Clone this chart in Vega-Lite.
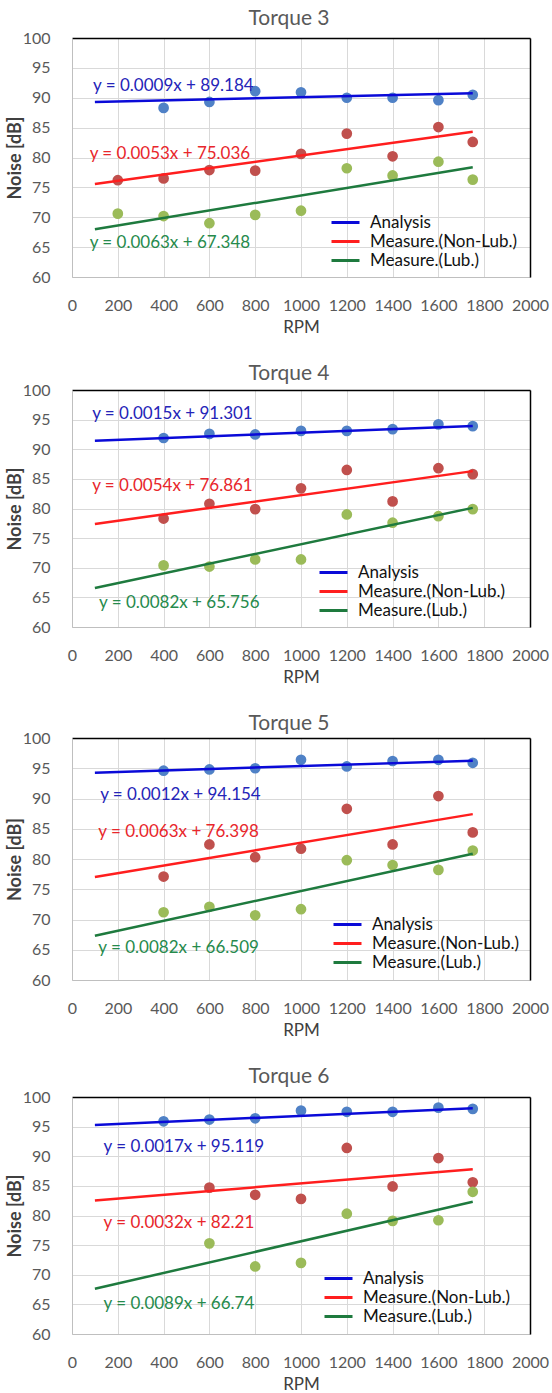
{
  "$schema": "https://vega.github.io/schema/vega-lite/v6.json",
  "padding": {"left": 6, "top": 8, "right": 5, "bottom": 0},
  "background": "white",
  "spacing": 28,
  "config": {
    "font": "Lato",
    "view": {"stroke": null},
    "title": {"font": "Lato", "fontSize": 21, "fontWeight": "normal", "color": "#595959", "offset": 0, "dx": -12},
    "axis": {"labelFont": "Lato", "titleFont": "Lato", "labelFontSize": 16, "labelColor": "#595959", "ticks": false, "domainColor": "#BFBFBF", "gridColor": "#D9D9D9", "titleColor": "#404040", "labelOverlap": false, "labelFlush": false},
    "axisX": {"labelPadding": 20, "titleFontSize": 17, "titleFontWeight": "normal", "titlePadding": 6},
    "axisY": {"labelPadding": 22, "titleFontSize": 18, "titleFontWeight": "bold"},
    "legend": {"labelFont": "Lato", "labelFontSize": 17, "labelColor": "#111111", "symbolType": "M-2,0H2", "symbolSize": 196, "symbolStrokeWidth": 3, "rowPadding": 1, "labelOffset": 16, "padding": 0, "orient": "none"}
  },
  "datasets": {
    "pts": [
      {"panel": "Torque 3", "series": "Analysis", "rpm": 400, "noise": 88.3},
      {"panel": "Torque 3", "series": "Analysis", "rpm": 600, "noise": 89.3},
      {"panel": "Torque 3", "series": "Analysis", "rpm": 800, "noise": 91.1},
      {"panel": "Torque 3", "series": "Analysis", "rpm": 1000, "noise": 90.9},
      {"panel": "Torque 3", "series": "Analysis", "rpm": 1200, "noise": 90.0},
      {"panel": "Torque 3", "series": "Analysis", "rpm": 1400, "noise": 90.0},
      {"panel": "Torque 3", "series": "Analysis", "rpm": 1600, "noise": 89.6},
      {"panel": "Torque 3", "series": "Analysis", "rpm": 1750, "noise": 90.5},
      {"panel": "Torque 3", "series": "Measure.(Non-Lub.)", "rpm": 200, "noise": 76.2},
      {"panel": "Torque 3", "series": "Measure.(Non-Lub.)", "rpm": 400, "noise": 76.5},
      {"panel": "Torque 3", "series": "Measure.(Non-Lub.)", "rpm": 600, "noise": 77.9},
      {"panel": "Torque 3", "series": "Measure.(Non-Lub.)", "rpm": 800, "noise": 77.8},
      {"panel": "Torque 3", "series": "Measure.(Non-Lub.)", "rpm": 1000, "noise": 80.6},
      {"panel": "Torque 3", "series": "Measure.(Non-Lub.)", "rpm": 1200, "noise": 84.0},
      {"panel": "Torque 3", "series": "Measure.(Non-Lub.)", "rpm": 1400, "noise": 80.2},
      {"panel": "Torque 3", "series": "Measure.(Non-Lub.)", "rpm": 1600, "noise": 85.1},
      {"panel": "Torque 3", "series": "Measure.(Non-Lub.)", "rpm": 1750, "noise": 82.6},
      {"panel": "Torque 3", "series": "Measure.(Lub.)", "rpm": 200, "noise": 70.6},
      {"panel": "Torque 3", "series": "Measure.(Lub.)", "rpm": 400, "noise": 70.2},
      {"panel": "Torque 3", "series": "Measure.(Lub.)", "rpm": 600, "noise": 69.0},
      {"panel": "Torque 3", "series": "Measure.(Lub.)", "rpm": 800, "noise": 70.4},
      {"panel": "Torque 3", "series": "Measure.(Lub.)", "rpm": 1000, "noise": 71.1},
      {"panel": "Torque 3", "series": "Measure.(Lub.)", "rpm": 1200, "noise": 78.2},
      {"panel": "Torque 3", "series": "Measure.(Lub.)", "rpm": 1400, "noise": 77.0},
      {"panel": "Torque 3", "series": "Measure.(Lub.)", "rpm": 1600, "noise": 79.3},
      {"panel": "Torque 3", "series": "Measure.(Lub.)", "rpm": 1750, "noise": 76.3},
      {"panel": "Torque 4", "series": "Analysis", "rpm": 400, "noise": 91.9},
      {"panel": "Torque 4", "series": "Analysis", "rpm": 600, "noise": 92.6},
      {"panel": "Torque 4", "series": "Analysis", "rpm": 800, "noise": 92.5},
      {"panel": "Torque 4", "series": "Analysis", "rpm": 1000, "noise": 93.1},
      {"panel": "Torque 4", "series": "Analysis", "rpm": 1200, "noise": 93.1},
      {"panel": "Torque 4", "series": "Analysis", "rpm": 1400, "noise": 93.4},
      {"panel": "Torque 4", "series": "Analysis", "rpm": 1600, "noise": 94.2},
      {"panel": "Torque 4", "series": "Analysis", "rpm": 1750, "noise": 93.9},
      {"panel": "Torque 4", "series": "Measure.(Non-Lub.)", "rpm": 400, "noise": 78.3},
      {"panel": "Torque 4", "series": "Measure.(Non-Lub.)", "rpm": 600, "noise": 80.8},
      {"panel": "Torque 4", "series": "Measure.(Non-Lub.)", "rpm": 800, "noise": 79.9},
      {"panel": "Torque 4", "series": "Measure.(Non-Lub.)", "rpm": 1000, "noise": 83.4},
      {"panel": "Torque 4", "series": "Measure.(Non-Lub.)", "rpm": 1200, "noise": 86.5},
      {"panel": "Torque 4", "series": "Measure.(Non-Lub.)", "rpm": 1400, "noise": 81.2},
      {"panel": "Torque 4", "series": "Measure.(Non-Lub.)", "rpm": 1600, "noise": 86.8},
      {"panel": "Torque 4", "series": "Measure.(Non-Lub.)", "rpm": 1750, "noise": 85.8},
      {"panel": "Torque 4", "series": "Measure.(Lub.)", "rpm": 400, "noise": 70.4},
      {"panel": "Torque 4", "series": "Measure.(Lub.)", "rpm": 600, "noise": 70.2},
      {"panel": "Torque 4", "series": "Measure.(Lub.)", "rpm": 800, "noise": 71.4},
      {"panel": "Torque 4", "series": "Measure.(Lub.)", "rpm": 1000, "noise": 71.4},
      {"panel": "Torque 4", "series": "Measure.(Lub.)", "rpm": 1200, "noise": 79.0},
      {"panel": "Torque 4", "series": "Measure.(Lub.)", "rpm": 1400, "noise": 77.6},
      {"panel": "Torque 4", "series": "Measure.(Lub.)", "rpm": 1600, "noise": 78.7},
      {"panel": "Torque 4", "series": "Measure.(Lub.)", "rpm": 1750, "noise": 79.9},
      {"panel": "Torque 5", "series": "Analysis", "rpm": 400, "noise": 94.6},
      {"panel": "Torque 5", "series": "Analysis", "rpm": 600, "noise": 94.8},
      {"panel": "Torque 5", "series": "Analysis", "rpm": 800, "noise": 95.0},
      {"panel": "Torque 5", "series": "Analysis", "rpm": 1000, "noise": 96.4},
      {"panel": "Torque 5", "series": "Analysis", "rpm": 1200, "noise": 95.3},
      {"panel": "Torque 5", "series": "Analysis", "rpm": 1400, "noise": 96.2},
      {"panel": "Torque 5", "series": "Analysis", "rpm": 1600, "noise": 96.4},
      {"panel": "Torque 5", "series": "Analysis", "rpm": 1750, "noise": 95.9},
      {"panel": "Torque 5", "series": "Measure.(Non-Lub.)", "rpm": 400, "noise": 77.1},
      {"panel": "Torque 5", "series": "Measure.(Non-Lub.)", "rpm": 600, "noise": 82.4},
      {"panel": "Torque 5", "series": "Measure.(Non-Lub.)", "rpm": 800, "noise": 80.3},
      {"panel": "Torque 5", "series": "Measure.(Non-Lub.)", "rpm": 1000, "noise": 81.7},
      {"panel": "Torque 5", "series": "Measure.(Non-Lub.)", "rpm": 1200, "noise": 88.3},
      {"panel": "Torque 5", "series": "Measure.(Non-Lub.)", "rpm": 1400, "noise": 82.4},
      {"panel": "Torque 5", "series": "Measure.(Non-Lub.)", "rpm": 1600, "noise": 90.4},
      {"panel": "Torque 5", "series": "Measure.(Non-Lub.)", "rpm": 1750, "noise": 84.4},
      {"panel": "Torque 5", "series": "Measure.(Lub.)", "rpm": 400, "noise": 71.2},
      {"panel": "Torque 5", "series": "Measure.(Lub.)", "rpm": 600, "noise": 72.1},
      {"panel": "Torque 5", "series": "Measure.(Lub.)", "rpm": 800, "noise": 70.7},
      {"panel": "Torque 5", "series": "Measure.(Lub.)", "rpm": 1000, "noise": 71.7},
      {"panel": "Torque 5", "series": "Measure.(Lub.)", "rpm": 1200, "noise": 79.8},
      {"panel": "Torque 5", "series": "Measure.(Lub.)", "rpm": 1400, "noise": 79.0},
      {"panel": "Torque 5", "series": "Measure.(Lub.)", "rpm": 1600, "noise": 78.2},
      {"panel": "Torque 5", "series": "Measure.(Lub.)", "rpm": 1750, "noise": 81.4},
      {"panel": "Torque 6", "series": "Analysis", "rpm": 400, "noise": 95.9},
      {"panel": "Torque 6", "series": "Analysis", "rpm": 600, "noise": 96.2},
      {"panel": "Torque 6", "series": "Analysis", "rpm": 800, "noise": 96.4},
      {"panel": "Torque 6", "series": "Analysis", "rpm": 1000, "noise": 97.7},
      {"panel": "Torque 6", "series": "Analysis", "rpm": 1200, "noise": 97.5},
      {"panel": "Torque 6", "series": "Analysis", "rpm": 1400, "noise": 97.5},
      {"panel": "Torque 6", "series": "Analysis", "rpm": 1600, "noise": 98.2},
      {"panel": "Torque 6", "series": "Analysis", "rpm": 1750, "noise": 98.0},
      {"panel": "Torque 6", "series": "Measure.(Non-Lub.)", "rpm": 600, "noise": 84.7},
      {"panel": "Torque 6", "series": "Measure.(Non-Lub.)", "rpm": 800, "noise": 83.5},
      {"panel": "Torque 6", "series": "Measure.(Non-Lub.)", "rpm": 1000, "noise": 82.8},
      {"panel": "Torque 6", "series": "Measure.(Non-Lub.)", "rpm": 1200, "noise": 91.4},
      {"panel": "Torque 6", "series": "Measure.(Non-Lub.)", "rpm": 1400, "noise": 84.9},
      {"panel": "Torque 6", "series": "Measure.(Non-Lub.)", "rpm": 1600, "noise": 89.7},
      {"panel": "Torque 6", "series": "Measure.(Non-Lub.)", "rpm": 1750, "noise": 85.6},
      {"panel": "Torque 6", "series": "Measure.(Lub.)", "rpm": 600, "noise": 75.3},
      {"panel": "Torque 6", "series": "Measure.(Lub.)", "rpm": 800, "noise": 71.4},
      {"panel": "Torque 6", "series": "Measure.(Lub.)", "rpm": 1000, "noise": 72.0},
      {"panel": "Torque 6", "series": "Measure.(Lub.)", "rpm": 1200, "noise": 80.3},
      {"panel": "Torque 6", "series": "Measure.(Lub.)", "rpm": 1400, "noise": 79.1},
      {"panel": "Torque 6", "series": "Measure.(Lub.)", "rpm": 1600, "noise": 79.2},
      {"panel": "Torque 6", "series": "Measure.(Lub.)", "rpm": 1750, "noise": 84.0}
    ],
    "lines": [
      {"panel": "Torque 3", "series": "Analysis", "rpm": 100, "noise": 89.27},
      {"panel": "Torque 3", "series": "Analysis", "rpm": 1750, "noise": 90.76},
      {"panel": "Torque 3", "series": "Measure.(Non-Lub.)", "rpm": 100, "noise": 75.57},
      {"panel": "Torque 3", "series": "Measure.(Non-Lub.)", "rpm": 1750, "noise": 84.31},
      {"panel": "Torque 3", "series": "Measure.(Lub.)", "rpm": 100, "noise": 67.98},
      {"panel": "Torque 3", "series": "Measure.(Lub.)", "rpm": 1750, "noise": 78.37},
      {"panel": "Torque 4", "series": "Analysis", "rpm": 100, "noise": 91.45},
      {"panel": "Torque 4", "series": "Analysis", "rpm": 1750, "noise": 93.93},
      {"panel": "Torque 4", "series": "Measure.(Non-Lub.)", "rpm": 100, "noise": 77.40},
      {"panel": "Torque 4", "series": "Measure.(Non-Lub.)", "rpm": 1750, "noise": 86.31},
      {"panel": "Torque 4", "series": "Measure.(Lub.)", "rpm": 100, "noise": 66.58},
      {"panel": "Torque 4", "series": "Measure.(Lub.)", "rpm": 1750, "noise": 80.11},
      {"panel": "Torque 5", "series": "Analysis", "rpm": 100, "noise": 94.27},
      {"panel": "Torque 5", "series": "Analysis", "rpm": 1750, "noise": 96.25},
      {"panel": "Torque 5", "series": "Measure.(Non-Lub.)", "rpm": 100, "noise": 77.03},
      {"panel": "Torque 5", "series": "Measure.(Non-Lub.)", "rpm": 1750, "noise": 87.42},
      {"panel": "Torque 5", "series": "Measure.(Lub.)", "rpm": 100, "noise": 67.33},
      {"panel": "Torque 5", "series": "Measure.(Lub.)", "rpm": 1750, "noise": 80.86},
      {"panel": "Torque 6", "series": "Analysis", "rpm": 100, "noise": 95.29},
      {"panel": "Torque 6", "series": "Analysis", "rpm": 1750, "noise": 98.09},
      {"panel": "Torque 6", "series": "Measure.(Non-Lub.)", "rpm": 100, "noise": 82.53},
      {"panel": "Torque 6", "series": "Measure.(Non-Lub.)", "rpm": 1750, "noise": 87.81},
      {"panel": "Torque 6", "series": "Measure.(Lub.)", "rpm": 100, "noise": 67.63},
      {"panel": "Torque 6", "series": "Measure.(Lub.)", "rpm": 1750, "noise": 82.32}
    ],
    "eqs": [
      {"panel": "Torque 3", "series": "Analysis", "rpm": 92, "noise": 91.9, "label": "y = 0.0009x + 89.184"},
      {"panel": "Torque 3", "series": "Measure.(Non-Lub.)", "rpm": 77, "noise": 80.6, "label": "y = 0.0053x + 75.036"},
      {"panel": "Torque 3", "series": "Measure.(Lub.)", "rpm": 77, "noise": 65.7, "label": "y = 0.0063x + 67.348"},
      {"panel": "Torque 4", "series": "Analysis", "rpm": 88, "noise": 95.9, "label": "y = 0.0015x + 91.301"},
      {"panel": "Torque 4", "series": "Measure.(Non-Lub.)", "rpm": 88, "noise": 83.8, "label": "y = 0.0054x + 76.861"},
      {"panel": "Torque 4", "series": "Measure.(Lub.)", "rpm": 118, "noise": 64.0, "label": "y = 0.0082x + 65.756"},
      {"panel": "Torque 5", "series": "Analysis", "rpm": 123, "noise": 90.6, "label": "y = 0.0012x + 94.154"},
      {"panel": "Torque 5", "series": "Measure.(Non-Lub.)", "rpm": 115, "noise": 84.4, "label": "y = 0.0063x + 76.398"},
      {"panel": "Torque 5", "series": "Measure.(Lub.)", "rpm": 115, "noise": 65.3, "label": "y = 0.0082x + 66.509"},
      {"panel": "Torque 6", "series": "Analysis", "rpm": 138, "noise": 91.5, "label": "y = 0.0017x + 95.119"},
      {"panel": "Torque 6", "series": "Measure.(Non-Lub.)", "rpm": 138, "noise": 78.8, "label": "y = 0.0032x + 82.21"},
      {"panel": "Torque 6", "series": "Measure.(Lub.)", "rpm": 138, "noise": 65.0, "label": "y = 0.0089x + 66.74"}
    ]
  },
  "resolve": {"legend": {"stroke": "independent"}, "scale": {"stroke": "independent"}},
  "vconcat": [
    {
      "title": {"text": "Torque 3", "offset": 1},
      "width": 458, "height": 239,
      "resolve": {"axis": {"x": "independent", "y": "independent"}},
      "layer": [
        {
          "data": {"name": "pts"},
          "transform": [{"filter": "datum.panel === 'Torque 3'"}],
          "mark": {"type": "circle", "size": 115, "opacity": 1},
          "encoding": {
            "x": {"field": "rpm", "type": "quantitative", "scale": {"domain": [0, 2000], "nice": false}, "axis": {"orient": "top", "labels": false, "grid": false, "title": null, "domainColor": "#000000", "domainWidth": 1.5}},
            "y": {"field": "noise", "type": "quantitative", "scale": {"domain": [60, 100], "nice": false, "zero": false}, "axis": {"orient": "right", "labels": false, "grid": false, "title": null, "domainColor": "#000000", "domainWidth": 1.5}},
            "fill": {"field": "series", "type": "nominal", "scale": {"domain": ["Analysis", "Measure.(Non-Lub.)", "Measure.(Lub.)"], "range": ["#4F81C6", "#C0504D", "#9BBB59"]}, "legend": null}
          }
        },
        {
          "data": {"name": "lines"},
          "transform": [{"filter": "datum.panel === 'Torque 3'"}],
          "mark": {"type": "line", "strokeWidth": 2.5},
          "encoding": {
            "x": {"field": "rpm", "type": "quantitative", "axis": {"orient": "bottom", "format": "d", "values": [0, 200, 400, 600, 800, 1000, 1200, 1400, 1600, 1800, 2000], "title": "RPM", "grid": true}},
            "y": {"field": "noise", "type": "quantitative", "axis": {"orient": "left", "format": "d", "values": [60, 65, 70, 75, 80, 85, 90, 95, 100], "title": "Noise [dB]", "grid": true, "titleX": -48}},
            "stroke": {"field": "series", "type": "nominal", "scale": {"domain": ["Analysis", "Measure.(Non-Lub.)", "Measure.(Lub.)"], "range": ["#0A0AD8", "#FF1E1E", "#1E7A3E"]}, "legend": {"title": null, "legendX": 265, "legendY": 176}}
          }
        },
        {
          "data": {"name": "eqs"},
          "transform": [{"filter": "datum.panel === 'Torque 3'"}],
          "mark": {"type": "text", "align": "left", "baseline": "middle", "fontSize": 17, "font": "Lato"},
          "encoding": {
            "x": {"field": "rpm", "type": "quantitative", "axis": null},
            "y": {"field": "noise", "type": "quantitative", "axis": null},
            "text": {"field": "label"},
            "color": {"field": "series", "type": "nominal", "scale": {"domain": ["Analysis", "Measure.(Non-Lub.)", "Measure.(Lub.)"], "range": ["#2424B8", "#E8262B", "#268A4C"]}, "legend": null}
          }
        }
      ]
    },
    {
      "title": {"text": "Torque 4", "offset": -2},
      "width": 458, "height": 237,
      "resolve": {"axis": {"x": "independent", "y": "independent"}},
      "layer": [
        {
          "data": {"name": "pts"},
          "transform": [{"filter": "datum.panel === 'Torque 4'"}],
          "mark": {"type": "circle", "size": 115, "opacity": 1},
          "encoding": {
            "x": {"field": "rpm", "type": "quantitative", "scale": {"domain": [0, 2000], "nice": false}, "axis": {"orient": "top", "labels": false, "grid": false, "title": null, "domainColor": "#000000", "domainWidth": 1.5}},
            "y": {"field": "noise", "type": "quantitative", "scale": {"domain": [60, 100], "nice": false, "zero": false}, "axis": {"orient": "right", "labels": false, "grid": false, "title": null, "domainColor": "#000000", "domainWidth": 1.5}},
            "fill": {"field": "series", "type": "nominal", "scale": {"domain": ["Analysis", "Measure.(Non-Lub.)", "Measure.(Lub.)"], "range": ["#4F81C6", "#C0504D", "#9BBB59"]}, "legend": null}
          }
        },
        {
          "data": {"name": "lines"},
          "transform": [{"filter": "datum.panel === 'Torque 4'"}],
          "mark": {"type": "line", "strokeWidth": 2.5},
          "encoding": {
            "x": {"field": "rpm", "type": "quantitative", "axis": {"orient": "bottom", "format": "d", "values": [0, 200, 400, 600, 800, 1000, 1200, 1400, 1600, 1800, 2000], "title": "RPM", "grid": true}},
            "y": {"field": "noise", "type": "quantitative", "axis": {"orient": "left", "format": "d", "values": [60, 65, 70, 75, 80, 85, 90, 95, 100], "title": "Noise [dB]", "grid": true, "titleX": -48}},
            "stroke": {"field": "series", "type": "nominal", "scale": {"domain": ["Analysis", "Measure.(Non-Lub.)", "Measure.(Lub.)"], "range": ["#0A0AD8", "#FF1E1E", "#1E7A3E"]}, "legend": {"title": null, "legendX": 253, "legendY": 174}}
          }
        },
        {
          "data": {"name": "eqs"},
          "transform": [{"filter": "datum.panel === 'Torque 4'"}],
          "mark": {"type": "text", "align": "left", "baseline": "middle", "fontSize": 17, "font": "Lato"},
          "encoding": {
            "x": {"field": "rpm", "type": "quantitative", "axis": null},
            "y": {"field": "noise", "type": "quantitative", "axis": null},
            "text": {"field": "label"},
            "color": {"field": "series", "type": "nominal", "scale": {"domain": ["Analysis", "Measure.(Non-Lub.)", "Measure.(Lub.)"], "range": ["#2424B8", "#E8262B", "#268A4C"]}, "legend": null}
          }
        }
      ]
    },
    {
      "title": {"text": "Torque 5", "offset": -4},
      "width": 458, "height": 242,
      "resolve": {"axis": {"x": "independent", "y": "independent"}},
      "layer": [
        {
          "data": {"name": "pts"},
          "transform": [{"filter": "datum.panel === 'Torque 5'"}],
          "mark": {"type": "circle", "size": 115, "opacity": 1},
          "encoding": {
            "x": {"field": "rpm", "type": "quantitative", "scale": {"domain": [0, 2000], "nice": false}, "axis": {"orient": "top", "labels": false, "grid": false, "title": null, "domainColor": "#000000", "domainWidth": 1.5}},
            "y": {"field": "noise", "type": "quantitative", "scale": {"domain": [60, 100], "nice": false, "zero": false}, "axis": {"orient": "right", "labels": false, "grid": false, "title": null, "domainColor": "#000000", "domainWidth": 1.5}},
            "fill": {"field": "series", "type": "nominal", "scale": {"domain": ["Analysis", "Measure.(Non-Lub.)", "Measure.(Lub.)"], "range": ["#4F81C6", "#C0504D", "#9BBB59"]}, "legend": null}
          }
        },
        {
          "data": {"name": "lines"},
          "transform": [{"filter": "datum.panel === 'Torque 5'"}],
          "mark": {"type": "line", "strokeWidth": 2.5},
          "encoding": {
            "x": {"field": "rpm", "type": "quantitative", "axis": {"orient": "bottom", "format": "d", "values": [0, 200, 400, 600, 800, 1000, 1200, 1400, 1600, 1800, 2000], "title": "RPM", "grid": true}},
            "y": {"field": "noise", "type": "quantitative", "axis": {"orient": "left", "format": "d", "values": [60, 65, 70, 75, 80, 85, 90, 95, 100], "title": "Noise [dB]", "grid": true, "titleX": -48}},
            "stroke": {"field": "series", "type": "nominal", "scale": {"domain": ["Analysis", "Measure.(Non-Lub.)", "Measure.(Lub.)"], "range": ["#0A0AD8", "#FF1E1E", "#1E7A3E"]}, "legend": {"title": null, "legendX": 267, "legendY": 178}}
          }
        },
        {
          "data": {"name": "eqs"},
          "transform": [{"filter": "datum.panel === 'Torque 5'"}],
          "mark": {"type": "text", "align": "left", "baseline": "middle", "fontSize": 17, "font": "Lato"},
          "encoding": {
            "x": {"field": "rpm", "type": "quantitative", "axis": null},
            "y": {"field": "noise", "type": "quantitative", "axis": null},
            "text": {"field": "label"},
            "color": {"field": "series", "type": "nominal", "scale": {"domain": ["Analysis", "Measure.(Non-Lub.)", "Measure.(Lub.)"], "range": ["#2424B8", "#E8262B", "#268A4C"]}, "legend": null}
          }
        }
      ]
    },
    {
      "title": {"text": "Torque 6", "offset": 2},
      "width": 458, "height": 237,
      "resolve": {"axis": {"x": "independent", "y": "independent"}},
      "layer": [
        {
          "data": {"name": "pts"},
          "transform": [{"filter": "datum.panel === 'Torque 6'"}],
          "mark": {"type": "circle", "size": 115, "opacity": 1},
          "encoding": {
            "x": {"field": "rpm", "type": "quantitative", "scale": {"domain": [0, 2000], "nice": false}, "axis": {"orient": "top", "labels": false, "grid": false, "title": null, "domainColor": "#000000", "domainWidth": 1.5}},
            "y": {"field": "noise", "type": "quantitative", "scale": {"domain": [60, 100], "nice": false, "zero": false}, "axis": {"orient": "right", "labels": false, "grid": false, "title": null, "domainColor": "#000000", "domainWidth": 1.5}},
            "fill": {"field": "series", "type": "nominal", "scale": {"domain": ["Analysis", "Measure.(Non-Lub.)", "Measure.(Lub.)"], "range": ["#4F81C6", "#C0504D", "#9BBB59"]}, "legend": null}
          }
        },
        {
          "data": {"name": "lines"},
          "transform": [{"filter": "datum.panel === 'Torque 6'"}],
          "mark": {"type": "line", "strokeWidth": 2.5},
          "encoding": {
            "x": {"field": "rpm", "type": "quantitative", "axis": {"orient": "bottom", "format": "d", "values": [0, 200, 400, 600, 800, 1000, 1200, 1400, 1600, 1800, 2000], "title": "RPM", "grid": true}},
            "y": {"field": "noise", "type": "quantitative", "axis": {"orient": "left", "format": "d", "values": [60, 65, 70, 75, 80, 85, 90, 95, 100], "title": "Noise [dB]", "grid": true, "titleX": -48}},
            "stroke": {"field": "series", "type": "nominal", "scale": {"domain": ["Analysis", "Measure.(Non-Lub.)", "Measure.(Lub.)"], "range": ["#0A0AD8", "#FF1E1E", "#1E7A3E"]}, "legend": {"title": null, "legendX": 258, "legendY": 173}}
          }
        },
        {
          "data": {"name": "eqs"},
          "transform": [{"filter": "datum.panel === 'Torque 6'"}],
          "mark": {"type": "text", "align": "left", "baseline": "middle", "fontSize": 17, "font": "Lato"},
          "encoding": {
            "x": {"field": "rpm", "type": "quantitative", "axis": null},
            "y": {"field": "noise", "type": "quantitative", "axis": null},
            "text": {"field": "label"},
            "color": {"field": "series", "type": "nominal", "scale": {"domain": ["Analysis", "Measure.(Non-Lub.)", "Measure.(Lub.)"], "range": ["#2424B8", "#E8262B", "#268A4C"]}, "legend": null}
          }
        }
      ]
    }
  ]
}
